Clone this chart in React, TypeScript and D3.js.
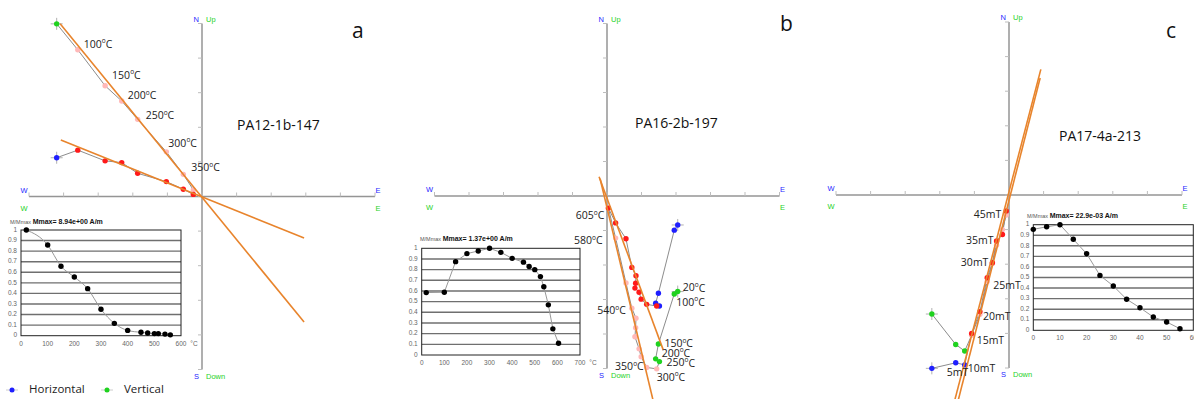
import * as d3 from "d3";

const W = 1194;
const H = 399;

// panel a — PA12-1b-147, thermal steps; Zijderveld coords in tick units (E, N / Up)
const aSteps = ["20", "100", "150", "200", "250", "300", "350", "400"];
const aEast = [-4.2, -3.59, -2.8, -2.32, -1.86, -1.03, -0.54, -0.25];
const aNorth = [1.12, 1.34, 1.03, 0.98, 0.67, 0.43, 0.21, 0.06];
const aUp = [4.99, 4.24, 3.2, 2.76, 2.23, 1.29, 0.64, 0.19];
const aFitH = [[-4.08, 1.63], [2.95, -1.2]];
const aFitV = [[-4.1, 4.99], [2.95, -3.63]];
const aDemagT = [20, 100, 150, 200, 250, 300, 350, 400, 450, 475, 500, 515, 540, 560];
const aDemagM = [1.0, 0.858, 0.657, 0.555, 0.445, 0.25, 0.117, 0.05, 0.032, 0.026, 0.02, 0.02, 0.015, 0.008];

// panel b — PA16-2b-197, thermal steps
const bSteps = ["20", "100", "150", "200", "250", "300", "350", "400", "450", "475", "500", "525", "540", "560", "580", "605"];
const bEast = [2.05, 1.95, 1.49, 1.41, 1.52, 1.44, 1.15, 0.99, 0.93, 0.81, 0.83, 0.84, 0.72, 0.55, 0.25, 0.04];
const bNorth = [-0.84, -0.99, -2.82, -3.11, -3.19, -3.19, -3.14, -2.99, -2.79, -2.67, -2.53, -2.31, -2.07, -1.24, -0.78, -0.35];
const bUp = [-2.77, -2.84, -4.29, -4.72, -4.8, -5.01, -4.97, -4.66, -4.43, -4.08, -3.82, -3.54, -3.25, -2.52, -1.22, -0.35];
const bFitH = [[-0.23, 0.56], [1.63, -4.46]];
const bFitV = [[-0.2, 0.5], [1.33, -5.9]];
const bDemagT = [20, 100, 150, 200, 250, 300, 350, 400, 450, 475, 500, 525, 540, 560, 580, 605];
const bDemagM = [0.585, 0.588, 0.875, 0.95, 0.975, 1.0, 0.962, 0.906, 0.87, 0.83, 0.8, 0.735, 0.64, 0.47, 0.245, 0.11];

// panel c — PA17-4a-213, AF steps
const cSteps = ["0", "5", "10", "15", "20", "25", "30", "35", "40", "45"];
const cEast = [-2.23, -1.54, -1.28, -1.08, -0.84, -0.63, -0.48, -0.36, -0.19, -0.08];
const cNorth = [-5.01, -4.85, -4.91, -4.0, -3.37, -2.39, -1.96, -1.33, -1.14, -0.46];
const cUp = [-3.44, -4.32, -4.51, -4.05, -3.45, -2.5, -1.98, -1.45, -1.0, -0.58];
const cFit1 = [[0.92, 3.63], [-1.56, -5.9]];
const cFit2 = [[0.9, 3.38], [-1.46, -5.9]];
const cDemagT = [0, 5, 10, 15, 20, 25, 30, 35, 40, 45, 50, 55];
const cDemagM = [0.956, 0.98, 1.0, 0.862, 0.725, 0.52, 0.42, 0.294, 0.214, 0.126, 0.079, 0.015];

const BLUE = "#1f1fff";
const GREEN = "#1fd21f";
const RED = "#ff1a1a";
const PINK = "#ffb8b8";
const ORANGE = "#e8842c";
const AXIS = "#959595";
const LINK = "#8c8c8c";

type Label = { i: number; comp: "h" | "v"; dx: number; dy: number; anchor?: string };

const panels = [
  {
    letter: "a", lx: 352, ly: 38, name: "PA12-1b-147", nx: 237, ny: 130,
    ox: 202, oy: 196.5, unit: 34.6,
    steps: aSteps, east: aEast, north: aNorth, up: aUp, nFree: 1, suffix: "C",
    fits: [aFitH, aFitV],
    labels: [
      { i: 1, comp: "v", dx: 6, dy: -5 },
      { i: 2, comp: "v", dx: 7, dy: -10 },
      { i: 3, comp: "v", dx: 6, dy: -5 },
      { i: 4, comp: "v", dx: 8, dy: -3 },
      { i: 5, comp: "v", dx: 2, dy: -8 },
      { i: 6, comp: "v", dx: 8, dy: -6 },
    ] as Label[],
    demagT: aDemagT, demagM: aDemagM, xMax: 600, xStep: 100, smooth: true,
    box: { x0: 21, x1: 181, y0: 230, y1: 335.7 }, titleX: 10, titleY: 224,
    mmax: "Mmax= 8.94e+00  A/m",
  },
  {
    letter: "b", lx: 780, ly: 31, name: "PA16-2b-197", nx: 635, ny: 128,
    ox: 607, oy: 196, unit: 34.5,
    steps: bSteps, east: bEast, north: bNorth, up: bUp, nFree: 5, suffix: "C",
    fits: [bFitH, bFitV],
    labels: [
      { i: 0, comp: "v", dx: 5, dy: -3 },
      { i: 1, comp: "v", dx: 2, dy: 9 },
      { i: 2, comp: "v", dx: 6, dy: 0 },
      { i: 3, comp: "v", dx: 6, dy: -5 },
      { i: 4, comp: "v", dx: 7, dy: 2 },
      { i: 5, comp: "v", dx: 0, dy: 9 },
      { i: 6, comp: "v", dx: -3, dy: 0, anchor: "end" },
      { i: 12, comp: "v", dx: -6, dy: 3, anchor: "end" },
      { i: 14, comp: "v", dx: -13, dy: 3, anchor: "end" },
      { i: 15, comp: "v", dx: -4, dy: 8, anchor: "end" },
    ] as Label[],
    demagT: bDemagT, demagM: bDemagM, xMax: 700, xStep: 100, smooth: false,
    box: { x0: 421.7, x1: 580, y0: 248.3, y1: 355 }, titleX: 420, titleY: 241,
    mmax: "Mmax= 1.37e+00  A/m",
  },
  {
    letter: "c", lx: 1166, ly: 38, name: "PA17-4a-213", nx: 1059, ny: 141,
    ox: 1009, oy: 195, unit: 34.6,
    steps: cSteps, east: cEast, north: cNorth, up: cUp, nFree: 3, suffix: "mT",
    fits: [cFit1, cFit2],
    labels: [
      { i: 1, comp: "h", dx: -9, dy: 10 },
      { i: 2, comp: "h", dx: 3, dy: 4 },
      { i: 3, comp: "h", dx: 5, dy: 8 },
      { i: 4, comp: "h", dx: 3, dy: 6 },
      { i: 5, comp: "h", dx: 6, dy: 8 },
      { i: 6, comp: "h", dx: -4, dy: 0, anchor: "end" },
      { i: 7, comp: "h", dx: -3, dy: 0, anchor: "end" },
      { i: 9, comp: "v", dx: -5, dy: 0, anchor: "end" },
    ] as Label[],
    demagT: cDemagT, demagM: cDemagM, xMax: 60, xStep: 10, smooth: false,
    box: { x0: 1033.3, x1: 1193.3, y0: 224.7, y1: 330.3 }, titleX: 1027, titleY: 218,
    mmax: "Mmax= 22.9e-03  A/m",
  },
];

type Panel = (typeof panels)[number];

const StepLabel = ({ text, suffix, ...rest }: any) => (
  <text fontFamily="Open Sans" fontSize={10.5} fill="#222" dominantBaseline="middle" {...rest}>
    {text}
    {suffix === "C" ? (
      <>
        <tspan fontSize={6.5} dy={-3.5}>o</tspan>
        <tspan dy={3.5}>C</tspan>
      </>
    ) : (
      "mT"
    )}
  </text>
);

function Zijderveld({ p }: { p: Panel }) {
  const x = d3.scaleLinear().domain([-5, 5]).range([p.ox - 5 * p.unit, p.ox + 5 * p.unit]);
  const y = d3.scaleLinear().domain([-5, 5]).range([p.oy + 5 * p.unit, p.oy - 5 * p.unit]);
  const ticks = d3.range(-5, 6);
  const hPts = p.east.map((e, i) => [x(e), y(p.north[i])] as [number, number]);
  const vPts = p.east.map((e, i) => [x(e), y(p.up[i])] as [number, number]);
  const line = d3.line();
  const [x0, x1] = x.range();
  const [yb, yt] = y.range();
  const small = { fontFamily: "Liberation Sans", fontSize: 7.5 };

  return (
    <g>
      {/* axes */}
      <line x1={x0} x2={x1} y1={p.oy} y2={p.oy} stroke={AXIS} strokeWidth={1.5} />
      <line x1={p.ox} x2={p.ox} y1={yt} y2={yb} stroke={AXIS} strokeWidth={1.5} />
      {ticks.map((t) => (
        <g key={t}>
          <line x1={x(t)} x2={x(t)} y1={p.oy} y2={p.oy - 4} stroke="#bdbdbd" />
          <line x1={p.ox} x2={p.ox - 4} y1={y(t)} y2={y(t)} stroke="#bdbdbd" />
        </g>
      ))}
      <text x={p.ox - 3} y={yt - 2} textAnchor="end" fill={BLUE} {...small}>N</text>
      <text x={p.ox + 4} y={yt - 2} fill={GREEN} {...small}>Up</text>
      <text x={p.ox - 3} y={yb + 9} textAnchor="end" fill={BLUE} {...small}>S</text>
      <text x={p.ox + 4} y={yb + 9} fill={GREEN} {...small}>Down</text>
      <text x={x0 - 5} y={p.oy - 4} textAnchor="middle" fill={BLUE} {...small}>W</text>
      <text x={x1 + 3} y={p.oy - 4} textAnchor="middle" fill={BLUE} {...small}>E</text>
      <text x={x0 - 5} y={p.oy + 14} textAnchor="middle" fill={GREEN} {...small}>W</text>
      <text x={x1 + 3} y={p.oy + 14} textAnchor="middle" fill={GREEN} {...small}>E</text>

      {/* demag paths */}
      <path d={line(hPts) ?? ""} fill="none" stroke={LINK} strokeWidth={1} />
      <path d={line(vPts) ?? ""} fill="none" stroke={LINK} strokeWidth={1} />

      {/* start crosses */}
      {[hPts[0], vPts[0]].map((pt, k) => (
        <g key={k} stroke="#b0b0b0" strokeWidth={1}>
          <line x1={pt[0] - 6} x2={pt[0] + 6} y1={pt[1]} y2={pt[1]} />
          <line x1={pt[0]} x2={pt[0]} y1={pt[1] - 6} y2={pt[1] + 6} />
        </g>
      ))}

      {/* dots */}
      {vPts.map((pt, i) => (
        <circle key={"v" + i} cx={pt[0]} cy={pt[1]} r={2.7} fill={i < p.nFree ? GREEN : PINK} />
      ))}
      {hPts.map((pt, i) => (
        <circle key={"h" + i} cx={pt[0]} cy={pt[1]} r={2.7} fill={i < p.nFree ? BLUE : RED} />
      ))}

      {/* PCA fits */}
      {p.fits.map((f, k) => (
        <line key={k} x1={x(f[0][0])} y1={y(f[0][1])} x2={x(f[1][0])} y2={y(f[1][1])}
          stroke={ORANGE} strokeWidth={1.6} />
      ))}

      {/* step labels */}
      {p.labels.map((l, k) => {
        const pt = l.comp === "h" ? hPts[l.i] : vPts[l.i];
        return (
          <StepLabel key={k} x={pt[0] + l.dx} y={pt[1] + l.dy} textAnchor={l.anchor ?? "start"}
            text={p.steps[l.i]} suffix={p.suffix} />
        );
      })}

      <text x={p.nx} y={p.ny} fontFamily="Open Sans" fontSize={14} fill="#111">{p.name}</text>
      <text x={p.lx} y={p.ly} fontFamily="Open Sans" fontSize={21} fill="#111">{p.letter}</text>
    </g>
  );
}

function Demag({ p }: { p: Panel }) {
  const b = p.box;
  const x = d3.scaleLinear().domain([0, p.xMax]).range([b.x0, b.x1]);
  const y = d3.scaleLinear().domain([0, 1]).range([b.y1, b.y0]);
  const pts = p.demagT.map((t, i) => [x(t), y(p.demagM[i])] as [number, number]);
  const line = d3.line().curve(p.smooth ? d3.curveMonotoneX : d3.curveLinear);
  const yTicks = d3.range(0, 11).map((v) => v / 10);
  const xTicks = d3.range(0, p.xMax + 1, p.xStep);
  const f = { fontFamily: "Liberation Sans", fontSize: 6.5, fill: "#666" };
  return (
    <g>
      <rect x={b.x0} y={b.y0} width={b.x1 - b.x0} height={b.y1 - b.y0} fill="#fff" />
      {yTicks.slice(1, 10).map((v) => (
        <line key={v} x1={b.x0} x2={b.x1} y1={y(v)} y2={y(v)} stroke="#6f6f6f" strokeWidth={1.4} />
      ))}
      <rect x={b.x0} y={b.y0} width={b.x1 - b.x0} height={b.y1 - b.y0} fill="none" stroke="#222" strokeWidth={1} />
      {yTicks.map((v) => (
        <text key={v} x={b.x0 - 4} y={y(v)} textAnchor="end" dominantBaseline="middle" {...f}>
          {d3.format("~g")(v)}
        </text>
      ))}
      {xTicks.map((t) => (
        <text key={t} x={x(t)} y={b.y1 + 10} textAnchor="middle" {...f}>{t}</text>
      ))}
      {p.suffix === "C" && (
        <text x={b.x1 + 13} y={b.y1 + 10} textAnchor="middle" {...f}>°C</text>
      )}
      <path d={line(pts) ?? ""} fill="none" stroke="#999" strokeWidth={1} />
      {pts.map((pt, i) => (
        <circle key={i} cx={pt[0]} cy={pt[1]} r={2.7} fill="#000" />
      ))}
      <text x={p.titleX} y={p.titleY} fontFamily="Liberation Sans" fontSize={5.5} fill="#555">
        M/Mmax <tspan fontWeight="bold" fill="#111" fontSize={7}>{p.mmax}</tspan>
      </text>
    </g>
  );
}

export default function App() {
  return (
    <svg width={W} height={H} viewBox={`0 0 ${W} ${H}`}
      style={{ position: "fixed", left: 0, top: 0, background: "#fff" }}>
      <rect width={W} height={H} fill="#fff" />
      {panels.map((p) => (
        <g key={p.letter}>
          <Zijderveld p={p} />
          <Demag p={p} />
        </g>
      ))}
      {/* legend */}
      <g fontFamily="Open Sans" fontSize={11.5} fill="#222">
        <line x1={6} x2={18} y1={390} y2={390} stroke="#ccc" />
        <circle cx={12} cy={390} r={2.5} fill={BLUE} />
        <text x={29} y={390} dominantBaseline="middle">Horizontal</text>
        <line x1={101} x2={113} y1={390} y2={390} stroke="#ccc" />
        <circle cx={107} cy={390} r={2.5} fill={GREEN} />
        <text x={124} y={390} dominantBaseline="middle">Vertical</text>
      </g>
    </svg>
  );
}
